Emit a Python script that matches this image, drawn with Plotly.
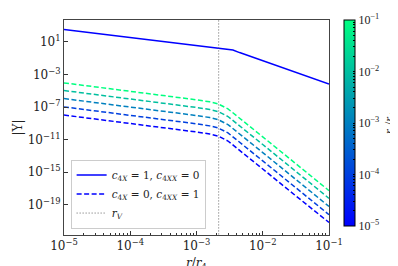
import numpy as np
import plotly.graph_objects as go

# ---- data (exponents, log10) ----
solid_logr = [-5, -4, -3, -2.8, -2.66, -2.55, -2.45, -2.35, -2.2, -2.0, -1.5, -1]
solid_logY = [2.55, 1.57, 0.6, 0.42, 0.3, 0.19, 0.02, -0.3, -0.73, -1.3, -2.73, -4.15]

dash_logr = [-5, -4, -3, -2.8, -2.675, -2.525, -2.4, -2.22, -2.0, -1.5, -1]
rs_exponents = [-5, -4, -3, -2, -1]
dash_logY_rs1e5 = [-7.97, -8.97, -10.05, -10.3, -10.55, -11.16, -12.0, -13.2, -14.6, -17.9, -21.16]
dash_logY_rs1e4 = [-6.97, -7.97, -9.05, -9.3, -9.55, -10.16, -11.0, -12.2, -13.6, -16.9, -20.2]
dash_logY_rs1e3 = [-5.95, -6.95, -8.03, -8.28, -8.53, -9.14, -9.98, -11.18, -12.58, -15.88, -19.2]
dash_logY_rs1e2 = [-4.96, -5.96, -7.04, -7.29, -7.54, -8.15, -8.99, -10.19, -11.59, -14.89, -18.2]
dash_logY_rs1e1 = [-4.02, -5.02, -6.1, -6.35, -6.6, -7.21, -8.05, -9.25, -10.65, -13.95, -17.25]
dash_series = [dash_logY_rs1e5, dash_logY_rs1e4, dash_logY_rs1e3, dash_logY_rs1e2, dash_logY_rs1e1]

r_V = 2.16e-3

x_tick_exp = [-5, -4, -3, -2, -1]
x_tick_text = ["10<sup>−5</sup>", "10<sup>−4</sup>", "10<sup>−3</sup>", "10<sup>−2</sup>", "10<sup>−1</sup>"]
y_tick_exp = [1, -3, -7, -11, -15, -19]
y_tick_text = ["10<sup>1</sup>", "10<sup>−3</sup>", "10<sup>−7</sup>", "10<sup>−11</sup>", "10<sup>−15</sup>", "10<sup>−19</sup>"]
cb_tick_exp = [-5, -4, -3, -2, -1]
cb_tick_text = ["10<sup>−5</sup>", "10<sup>−4</sup>", "10<sup>−3</sup>", "10<sup>−2</sup>", "10<sup>−1</sup>"]

# winter colormap
winter = [[0.0, "rgb(0,0,255)"], [1.0, "rgb(0,255,128)"]]
def winter_color(t):
    return "rgb(0,%d,%d)" % (round(255 * t), round(255 * (1 - 0.5 * t)))

FONT = "DejaVu Serif, Liberation Serif, serif"
NARROW = "Liberation Serif, serif"
fig = go.Figure()

fig.add_trace(go.Scatter(
    x=np.power(10.0, solid_logr), y=np.power(10.0, solid_logY), mode="lines",
    line=dict(color="rgb(0,0,255)", width=1.5), legendrank=1,
    name="<i>c</i><sub>4<i>X</i></sub> = 1, <i>c</i><sub>4<i>XX</i></sub> = 0"))

for i, (e, ys) in enumerate(zip(rs_exponents, dash_series)):
    t = (e - rs_exponents[0]) / (rs_exponents[-1] - rs_exponents[0])
    fig.add_trace(go.Scatter(
        x=np.power(10.0, dash_logr), y=np.power(10.0, ys), mode="lines",
        line=dict(color=winter_color(t), width=1.5, dash="5px,2.5px"),
        name="<i>c</i><sub>4<i>X</i></sub> = 0, <i>c</i><sub>4<i>XX</i></sub> = 1",
        showlegend=(i == 0), legendrank=2))

fig.add_trace(go.Scatter(
    x=[r_V, r_V], y=[1e-30, 1e10], mode="lines",
    line=dict(color="rgb(100,100,100)", width=1, dash="1px,2px"),
    name="<i>r<sub>V</sub></i>", legendrank=3))

# colorbar dummy
cb_minor = []
for k in range(-5, -1):
    for m in range(2, 10):
        cb_minor.append(k + np.log10(m))
fig.add_trace(go.Scatter(
    x=[1e-5, 1e-5], y=[1e-40, 1e-40], mode="markers", showlegend=False, hoverinfo="skip",
    marker=dict(color=[-5, -1], colorscale=winter, cmin=-5, cmax=-1, opacity=0, size=1,
                showscale=True,
                colorbar=dict(
                    x=1.055, xanchor="left", y=1.0, yanchor="top", len=0.96, lenmode="fraction",
                    ypad=0, xpad=0,
                    thickness=11, outlinewidth=1, outlinecolor="black",
                    tickvals=cb_tick_exp + cb_minor,
                    ticktext=cb_tick_text + [""] * len(cb_minor),
                    ticks="inside", ticklen=2, tickcolor="black", tickwidth=0.6,
                    tickfont=dict(family=NARROW, size=12, color="#222"),
                    title=dict(text="<i>r<sub>s</sub></i>/<i>r</i><sub>4</sub>", side="right",
                               font=dict(family=NARROW, size=13, color="#222"))))))

minor_vals = []
for k in range(-5, -1):
    for m in range(2, 10):
        minor_vals.append(m * 10.0 ** k)

fig.update_layout(
    width=398, height=266,
    margin=dict(l=56, r=77, t=12, b=39, autoexpand=False),
    plot_bgcolor="white", paper_bgcolor="white",
    font=dict(family=FONT, size=11, color="#222"),
    showlegend=True,
    legend=dict(x=0.025, y=0.03, xanchor="left", yanchor="bottom",
                bgcolor="rgba(255,255,255,0.9)", bordercolor="#cccccc", borderwidth=1,
                font=dict(family=FONT, size=10.5, color="#222"),
                tracegroupgap=0, itemwidth=30, traceorder="normal"),
    xaxis=dict(type="log", range=[-5, -1], showgrid=False, zeroline=False,
               tickvals=[10.0 ** e for e in x_tick_exp], ticktext=x_tick_text,
               ticks="inside", ticklen=4, tickcolor="#333",
               tickfont=dict(size=12),
               minor=dict(tickmode="array", tickvals=minor_vals, ticks="inside", ticklen=2,
                          tickcolor="#333", showgrid=False),
               showline=True, linecolor="#444", linewidth=1, mirror=True,
               title=dict(text="<i>r</i>/<i>r</i><sub>4</sub>", standoff=6,
                          font=dict(family=FONT, size=12))),
    yaxis=dict(type="log", range=[-22.7, 3.7], showgrid=False, zeroline=False,
               tickvals=[10.0 ** e for e in y_tick_exp], ticktext=y_tick_text,
               ticks="inside", ticklen=4, tickcolor="#333",
               tickfont=dict(size=12),
               showline=True, linecolor="#444", linewidth=1, mirror=True,
               title=dict(text="|Υ|", standoff=2, font=dict(family=FONT, size=12))),
)

fig.write_html("out.html")
